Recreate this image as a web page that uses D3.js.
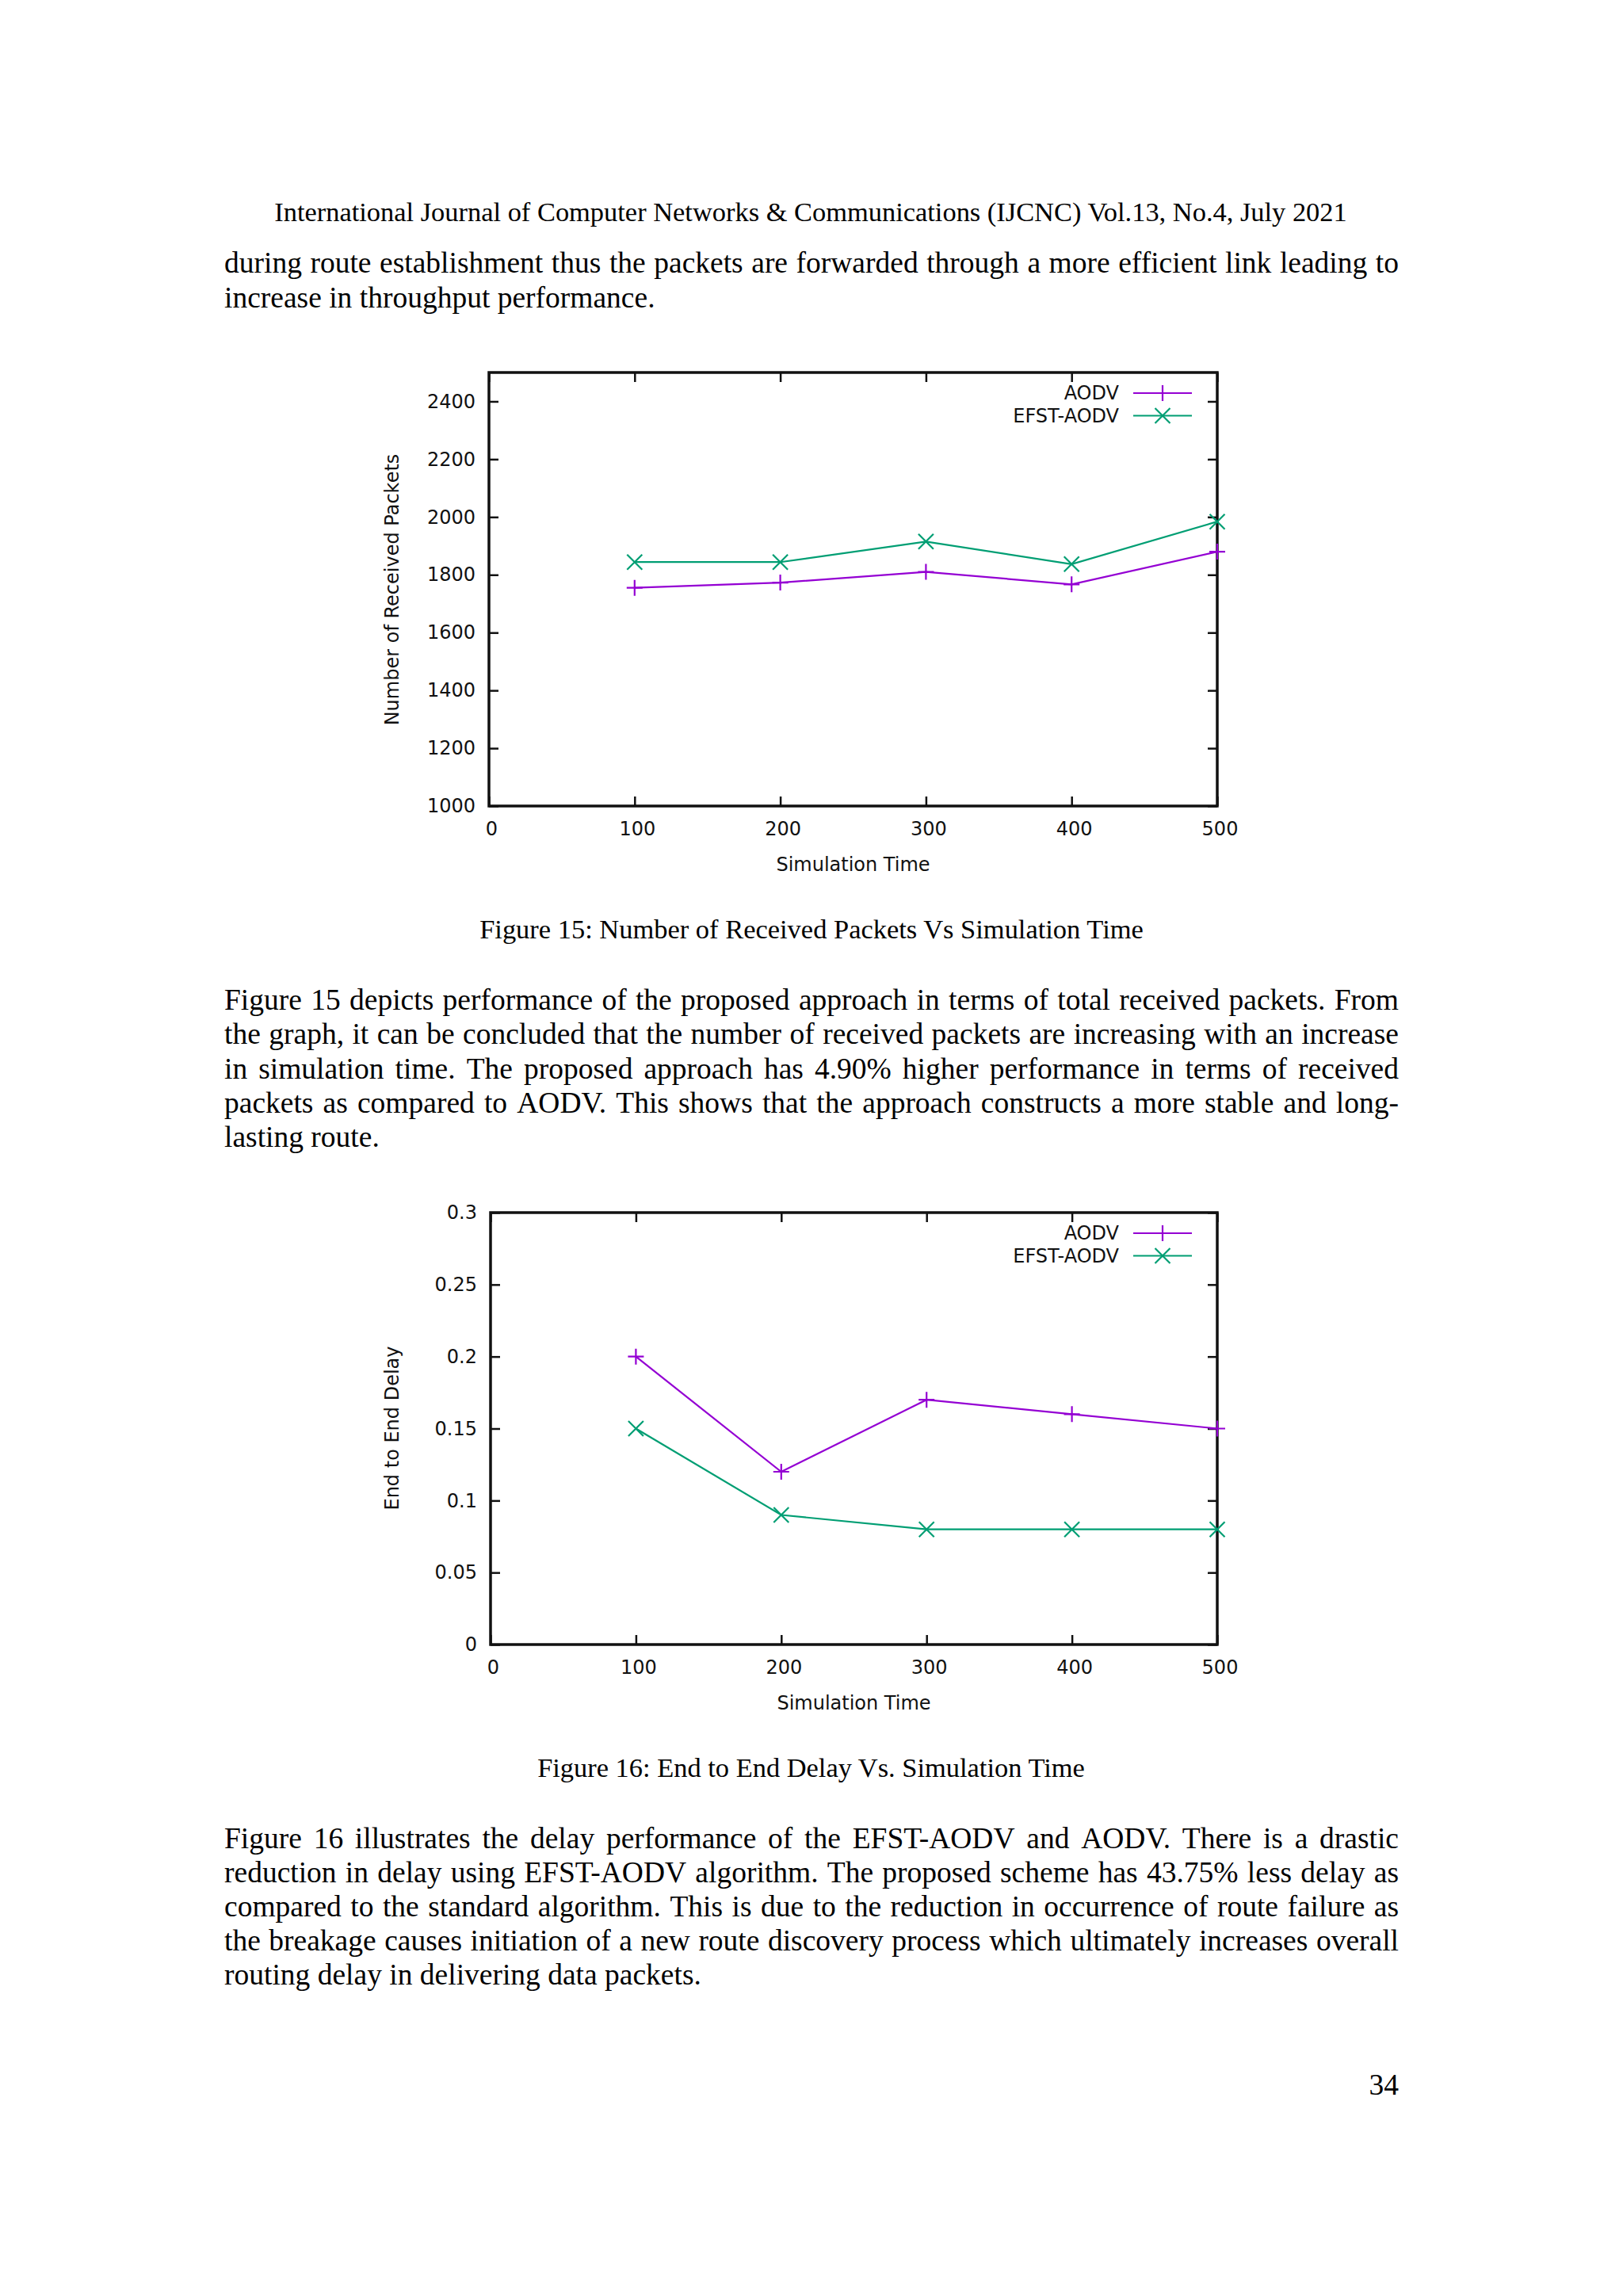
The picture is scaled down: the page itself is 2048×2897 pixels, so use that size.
<!DOCTYPE html>
<html><head><meta charset="utf-8">
<script src="https://cdn.jsdelivr.net/npm/d3@7"></script>
<style>html,body{margin:0;padding:0;background:#fff;} svg{display:block;}</style>
</head><body>
<svg id="page" width="2048" height="2897"></svg>
<script>
// ---------------- data ----------------
const simTime = [100, 200, 300, 400, 500];
const xTickValues = [0, 100, 200, 300, 400, 500];
const seriesNames = ["AODV", "EFST-AODV"];
const receivedAODV = [1755, 1773, 1810, 1767, 1880];
const receivedEFST = [1844, 1844, 1915, 1837, 1984];
const receivedTicks = [1000, 1200, 1400, 1600, 1800, 2000, 2200, 2400];
const delayAODV = [0.20, 0.12, 0.17, 0.16, 0.15];
const delayEFST = [0.15, 0.09, 0.08, 0.08, 0.08];
const delayTicks = [0, 0.05, 0.1, 0.15, 0.2, 0.25, 0.3];
const delayTickLabels = ["0", "0.05", "0.1", "0.15", "0.2", "0.25", "0.3"];
const seriesColors = ["#9400d3", "#009e73"];
const seriesMarkers = ["plus", "cross"];

// ---------------- text ----------------
const headerText = "International Journal of Computer Networks & Communications (IJCNC) Vol.13, No.4, July 2021";
const para1Lines = [
  "during route establishment thus the packets are forwarded through a more efficient link leading to",
  "increase in throughput performance."
];
const caption1 = "Figure 15: Number of Received Packets Vs Simulation Time";
const para2Lines = [
  "Figure 15 depicts performance of the proposed approach in terms of total received packets. From",
  "the graph, it can be concluded that the number of received packets are increasing with an increase",
  "in simulation time. The proposed approach has 4.90% higher performance in terms of received",
  "packets as compared to AODV. This shows that the approach constructs a more stable and long-",
  "lasting route."
];
const caption2 = "Figure 16: End to End Delay Vs. Simulation Time";
const para3Lines = [
  "Figure 16 illustrates the delay performance of the EFST-AODV and AODV. There is a drastic",
  "reduction in delay using EFST-AODV algorithm. The proposed scheme has 43.75% less delay as",
  "compared to the standard algorithm. This is due to the reduction in occurrence of route failure as",
  "the breakage causes initiation of a new route discovery process which ultimately increases overall",
  "routing delay in delivering data packets."
];
const pageNumber = "34";

// ---------------- layout ----------------
const svg = d3.select("#page");
svg.append("rect").attr("width", 2048).attr("height", 2897).attr("fill", "#fff");

const SERIF = "'Liberation Serif', 'Times New Roman', serif";
const BODY_SIZE = 37.5;
const TEXT_LEFT = 283, TEXT_RIGHT = 1765;

function measure(str, size) {
  const t = svg.append("text").style("font-family", SERIF).style("font-size", size + "px").text(str);
  const w = t.node().getComputedTextLength();
  t.remove();
  return w;
}

function paragraph(lines, baseline0, step) {
  lines.forEach((line, i) => {
    const y = baseline0 + i * step;
    const words = line.split(" ");
    const widths = words.map(w => measure(w, BODY_SIZE));
    const natural = measure(line, BODY_SIZE);
    const sumW = d3.sum(widths);
    const last = i === lines.length - 1;
    const gap = last ? (natural - sumW) / Math.max(1, words.length - 1)
                     : (TEXT_RIGHT - TEXT_LEFT - sumW) / Math.max(1, words.length - 1);
    const t = svg.append("text").attr("y", y)
      .style("font-family", SERIF).style("font-size", BODY_SIZE + "px").attr("fill", "#000");
    let x = TEXT_LEFT;
    words.forEach((w, k) => {
      t.append("tspan").attr("x", x).attr("y", y).text(w + (k < words.length - 1 ? " " : ""));
      x += widths[k] + gap;
    });
  });
}

function fittedLine(str, x0, x1, baseline) {
  const w = measure(str, 40);
  const size = 40 * (x1 - x0) / w;
  svg.append("text").attr("x", (x0 + x1) / 2).attr("y", baseline)
    .attr("text-anchor", "middle")
    .style("font-family", SERIF).style("font-size", size + "px").attr("fill", "#000")
    .text(str);
}

fittedLine(headerText, 346, 1700, 279);
paragraph(para1Lines, 344, 43.5);
fittedLine(caption1, 605, 1443, 1184);
paragraph(para2Lines, 1274, 43.3);
fittedLine(caption2, 678, 1369, 2242);
paragraph(para3Lines, 2332, 43.0);
svg.append("text").attr("x", TEXT_RIGHT).attr("y", 2643).attr("text-anchor", "end")
  .style("font-family", SERIF).style("font-size", BODY_SIZE + "px").text(pageNumber);

// ---------------- charts ----------------
const SANS = "'DejaVu Sans', sans-serif";
const CHART_FONT = 24;
const TICK = 12;

function markerPath(kind, r) {
  if (kind === "plus") return `M${-r},0H${r}M0,${-r}V${r}`;
  return `M${-r},${-r}L${r},${r}M${-r},${r}L${r},${-r}`;
}

function drawChart(cfg) {
  const g = svg.append("g");
  const x = d3.scaleLinear().domain([0, 500]).range([cfg.left, cfg.right]);
  const y = d3.scaleLinear().domain(cfg.yDomain).range([cfg.bottom, cfg.top]);

  const styleAxis = sel => {
    sel.select(".domain").remove();
    sel.selectAll(".tick line").attr("stroke", "#111").attr("stroke-width", 2.5);
    sel.selectAll(".tick text").attr("fill", "#111")
      .style("font-family", SANS).style("font-size", CHART_FONT + "px");
  };

  g.append("g").attr("transform", `translate(0,${cfg.bottom})`)
    .call(d3.axisBottom(x).tickValues(xTickValues).tickSize(-TICK).tickPadding(20).tickFormat(d3.format("d")))
    .call(styleAxis)
    .call(sel => sel.selectAll(".tick text").attr("dx", 3));
  g.append("g").attr("transform", `translate(0,${cfg.top})`)
    .call(d3.axisTop(x).tickValues(xTickValues).tickSize(-TICK).tickFormat(""))
    .call(styleAxis);
  g.append("g").attr("transform", `translate(${cfg.left},0)`)
    .call(d3.axisLeft(y).tickValues(cfg.yTicks).tickSize(-TICK).tickPadding(17)
      .tickFormat((d, i) => cfg.yLabels[i]))
    .call(styleAxis);
  g.append("g").attr("transform", `translate(${cfg.right},0)`)
    .call(d3.axisRight(y).tickValues(cfg.yTicks).tickSize(-TICK).tickFormat(""))
    .call(styleAxis);

  g.append("rect").attr("x", cfg.left).attr("y", cfg.top)
    .attr("width", cfg.right - cfg.left).attr("height", cfg.bottom - cfg.top)
    .attr("fill", "none").attr("stroke", "#111").attr("stroke-width", 3.5);

  // axis titles
  g.append("text").attr("x", (cfg.left + cfg.right) / 2).attr("y", cfg.xTitleY)
    .attr("text-anchor", "middle").attr("dominant-baseline", "central")
    .style("font-family", SANS).style("font-size", CHART_FONT + "px").attr("fill", "#111")
    .text("Simulation Time");
  g.append("text")
    .attr("transform", `translate(${cfg.yTitleX},${cfg.yTitleY}) rotate(-90)`)
    .attr("text-anchor", "middle").attr("dominant-baseline", "central")
    .style("font-family", SANS).style("font-size", CHART_FONT + "px").attr("fill", "#111")
    .text(cfg.yTitle);

  // series
  const line = d3.line().x((d, i) => x(simTime[i])).y(d => y(d));
  cfg.series.forEach((vals, s) => {
    g.append("path").datum(vals).attr("d", line)
      .attr("fill", "none").attr("stroke", seriesColors[s]).attr("stroke-width", 2.2);
    g.selectAll(null).data(vals).enter().append("path")
      .attr("transform", (d, i) => `translate(${x(simTime[i])},${y(d)})`)
      .attr("d", markerPath(seriesMarkers[s], seriesMarkers[s] === "plus" ? 10 : 9.5))
      .attr("fill", "none").attr("stroke", seriesColors[s]).attr("stroke-width", 2.2);
  });

  // legend
  seriesNames.forEach((name, s) => {
    const ly = cfg.top + 26 + s * 28.5;
    g.append("text").attr("x", 1412).attr("y", ly).attr("text-anchor", "end")
      .attr("dominant-baseline", "central")
      .style("font-family", SANS).style("font-size", CHART_FONT + "px").attr("fill", "#111")
      .text(name);
    g.append("line").attr("x1", 1430).attr("x2", 1504).attr("y1", ly).attr("y2", ly)
      .attr("stroke", seriesColors[s]).attr("stroke-width", 2.2);
    g.append("path").attr("transform", `translate(1467,${ly})`)
      .attr("d", markerPath(seriesMarkers[s], seriesMarkers[s] === "plus" ? 10 : 9.5))
      .attr("fill", "none").attr("stroke", seriesColors[s]).attr("stroke-width", 2.2);
  });
}

drawChart({
  left: 617, right: 1536, top: 470, bottom: 1017,
  yDomain: [1000, 2500], yTicks: receivedTicks, yLabels: receivedTicks.map(String),
  series: [receivedAODV, receivedEFST],
  yTitle: "Number of Received Packets", yTitleX: 495, yTitleY: 744, xTitleY: 1091
});
drawChart({
  left: 619, right: 1536, top: 1530, bottom: 2075,
  yDomain: [0, 0.3], yTicks: delayTicks, yLabels: delayTickLabels,
  series: [delayAODV, delayEFST],
  yTitle: "End to End Delay", yTitleX: 495, yTitleY: 1802, xTitleY: 2149
});
</script>
</body></html>
